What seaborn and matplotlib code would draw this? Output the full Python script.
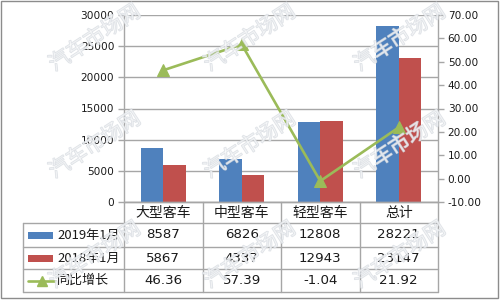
import numpy as np
import pandas as pd
import seaborn as sns
import matplotlib
matplotlib.use("Agg")
import matplotlib.pyplot as plt
from matplotlib.lines import Line2D
from matplotlib.patches import Rectangle
from matplotlib.transforms import blended_transform_factory
import matplotlib.patheffects as pe

# ---- data ----
categories = ["大型客车", "中型客车", "轻型客车", "总计"]
sales_2019 = [8587, 6826, 12808, 28221]
sales_2018 = [5867, 4337, 12943, 23147]
growth = [46.36, 57.39, -1.04, 21.92]
series_names = ["2019年1月", "2018年1月", "同比增长"]
left_ticks = [0, 5000, 10000, 15000, 20000, 25000, 30000]
right_ticks = [-10, 0, 10, 20, 30, 40, 50, 60, 70]
growth_labels = ["46.36", "57.39", "-1.04", "21.92"]
watermark = "汽车市场网"

BLUE = "#4F81BD"
RED = "#C0504D"
GREEN = "#9BBB59"
GRID = "#A6A6A6"
TXT = "#1a1a1a"

sns.set_theme(style="white")
plt.rcParams["font.family"] = ["DejaVu Sans", "Noto Sans CJK SC"]

W, H = 500, 300
def fx(x):
    return x / W
def fy(y):
    return 1 - y / H

fig = plt.figure(figsize=(5, 3), dpi=100)
fig.patch.set_facecolor("white")
ax = fig.add_axes([fx(124), fy(202), (438 - 124) / W, (202 - 15) / H])

df = pd.DataFrame({
    "category": categories * 2,
    "series": [series_names[0]] * 4 + [series_names[1]] * 4,
    "value": sales_2019 + sales_2018,
})
sns.barplot(data=df, x="category", y="value", hue="series",
            palette=[BLUE, RED], width=0.57, saturation=1,
            linewidth=0, legend=False, ax=ax, zorder=2)
ax.set_ylim(0, 30000)
ax.set_yticks(left_ticks)
ax.set_yticklabels([str(t) for t in left_ticks], fontsize=7.6, color=TXT)
ax.yaxis.grid(True, color=GRID, lw=1)
ax.set_axisbelow(True)
ax.set_xlabel("")
ax.set_ylabel("")
ax.tick_params(axis="x", length=0, labelbottom=False)
ax.tick_params(axis="y", direction="out", length=4, width=1, color=GRID, pad=3, left=True)
for s in ["top", "right"]:
    ax.spines[s].set_visible(False)
for s in ["left", "bottom"]:
    ax.spines[s].set_color(GRID)
    ax.spines[s].set_linewidth(1)

ax2 = ax.twinx()
sns.lineplot(x=np.arange(len(categories)), y=growth, ax=ax2, color=GREEN,
             lw=1.9, marker="^", markersize=8, markeredgecolor=GREEN,
             markerfacecolor=GREEN, zorder=5)
ax2.set_ylim(-10, 70)
ax2.set_yticks(right_ticks)
ax2.set_yticklabels([f"{t:.2f}" for t in right_ticks], fontsize=7.6, color=TXT)
ax2.set_ylabel("")
ax2.tick_params(axis="y", direction="out", length=4, width=1, color=GRID, pad=3, right=True)
for s in ["top", "left", "bottom"]:
    ax2.spines[s].set_visible(False)
ax2.spines["right"].set_color(GRID)
ax2.spines["right"].set_linewidth(1)
ax.set_xlim(-0.5, len(categories) - 0.5)

# ---- data table ----
bt = blended_transform_factory(ax.transData, fig.transFigure)
row_y = [202, 223, 247, 269, 292]
for i, y in enumerate(row_y):
    x0 = 23 if i >= 1 else 124
    fig.add_artist(Line2D([fx(x0), fx(438)], [fy(y), fy(y)], color=GRID, lw=1))
for b in np.arange(len(categories) + 1) - 0.5:
    fig.add_artist(Line2D([b, b], [fy(202), fy(292)], color=GRID, lw=1, transform=bt))
fig.add_artist(Line2D([fx(23), fx(23)], [fy(223), fy(292)], color=GRID, lw=1))

centers = [(row_y[i] + row_y[i + 1]) / 2 for i in range(4)]
for i, c in enumerate(categories):
    fig.text(i, fy(centers[0]), c, transform=bt, ha="center", va="center",
             fontsize=10, color=TXT, family=["Noto Sans CJK SC"])
rows = [[str(v) for v in sales_2019], [str(v) for v in sales_2018], growth_labels]
for r, vals in enumerate(rows):
    for i, v in enumerate(vals):
        fig.text(i, fy(centers[r + 1]), v, transform=bt, ha="center", va="center",
                 fontsize=9.6, color=TXT)
for r, (name, col) in enumerate(zip(series_names, [BLUE, RED, GREEN])):
    yc = centers[r + 1]
    if r < 2:
        fig.add_artist(Rectangle((fx(28), fy(yc + 3.5)), 25 / W, 7 / H,
                                 transform=fig.transFigure, color=col, lw=0))
    else:
        fig.add_artist(Line2D([fx(28), fx(55)], [fy(yc), fy(yc)], color=col, lw=1.9))
        fig.add_artist(Line2D([fx(41.5)], [fy(yc)], color=col, marker="^", markersize=7))
    fig.text(fx(57), fy(yc), name, ha="left", va="center", fontsize=9.4,
             color=TXT, family=["Noto Sans CJK SC"])

# ---- watermarks (faint outlined text) ----
for wx in [95, 250, 400]:
    for wy in [38, 145, 255]:
        fig.text(fx(wx), fy(wy), watermark, ha="center", va="center",
                 rotation=33, fontsize=15, color="white", alpha=0.35,
                 family=["Noto Sans CJK SC"], zorder=10,
                 path_effects=[pe.Stroke(linewidth=0.9, foreground="#d3d8de", alpha=0.75),
                               pe.Normal()])

fig.add_artist(Rectangle((fx(1), fy(298)), 497 / W, 297 / H, transform=fig.transFigure,
                         fill=False, ec="#8c8c8c", lw=1))

fig.savefig("out.png", dpi=100)
